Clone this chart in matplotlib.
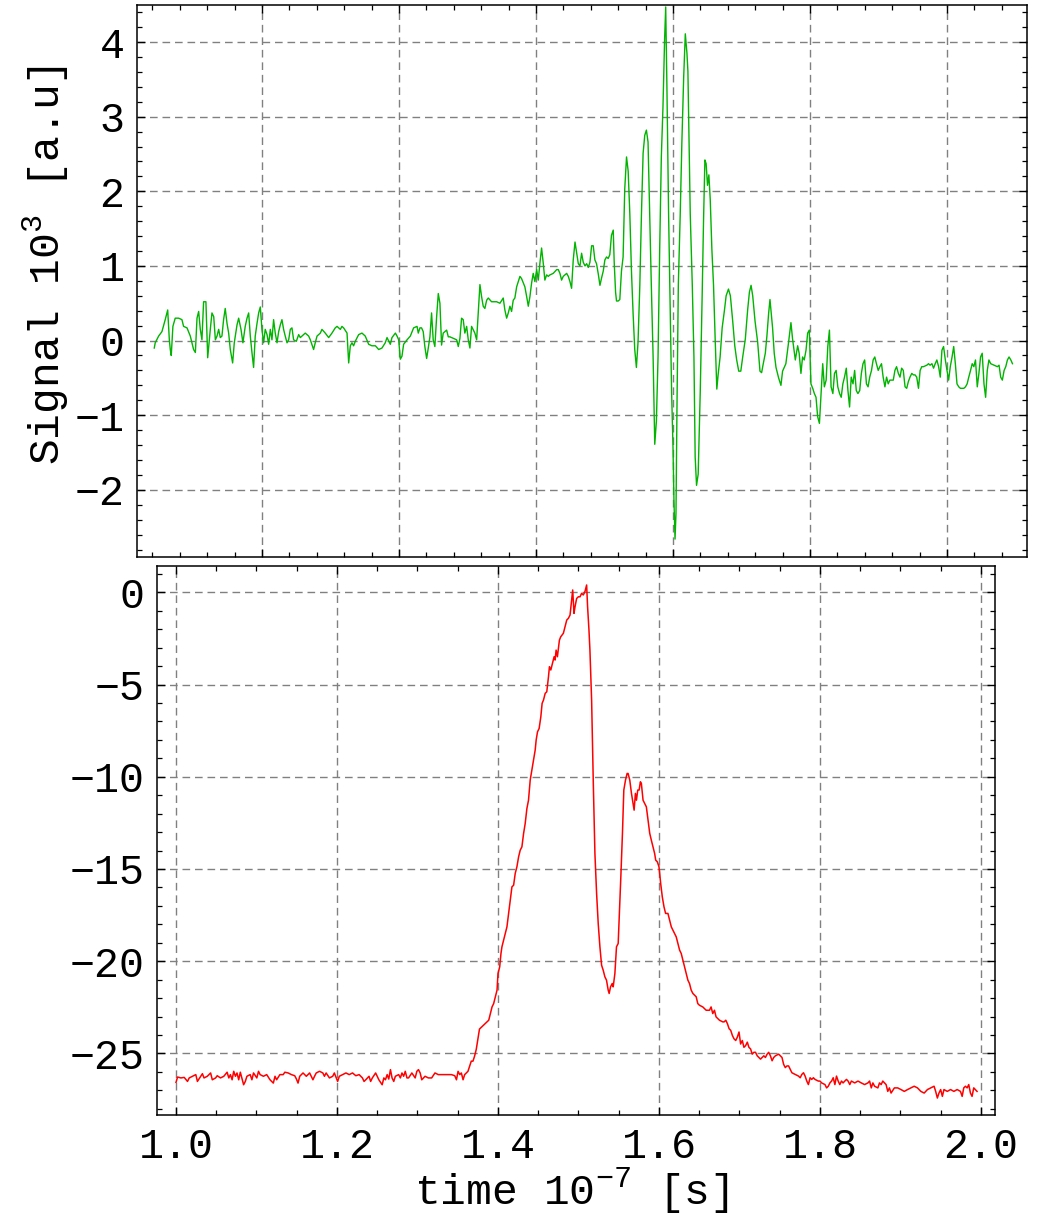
import matplotlib
matplotlib.use("Agg")
import matplotlib.pyplot as plt
from matplotlib.ticker import MultipleLocator, FixedLocator

plt.rcParams['font.family'] = ['Liberation Mono', 'DejaVu Sans']
plt.rcParams['mathtext.fontset'] = 'custom'
plt.rcParams['mathtext.rm'] = 'Liberation Mono'
plt.rcParams['mathtext.it'] = 'Liberation Mono'
plt.rcParams['axes.unicode_minus'] = True

# ---------------- data: top panel (signal, arbitrary time units) -------------
green_t = [102.14, 102.21, 102.46, 102.70, 102.94, 103.12, 103.24, 103.31, 103.38, 103.50,
           103.67, 103.92, 104.16, 104.28, 104.53, 104.77, 105.01, 105.14, 105.26, 105.38,
           105.50, 105.62, 105.74, 105.91, 106.04, 106.23, 106.35, 106.48, 106.60, 106.72,
           106.84, 106.96, 107.08, 107.20, 107.32, 107.45, 107.57, 107.69, 107.86, 107.98,
           108.18, 108.30, 108.47, 108.61, 108.78, 108.91, 109.03, 109.15, 109.27, 109.39,
           109.51, 109.64, 109.76, 109.88, 110.00, 110.12, 110.24, 110.37, 110.49, 110.61,
           110.73, 110.85, 110.97, 111.10, 111.22, 111.34, 111.46, 111.58, 111.70, 111.83,
           111.95, 112.07, 112.19, 112.31, 112.51, 112.68, 112.80, 113.04, 113.16, 113.41,
           113.53, 113.77, 113.89, 114.02, 114.26, 114.38, 114.62, 114.87, 115.11, 115.35,
           115.48, 115.72, 115.84, 115.96, 116.21, 116.33, 116.45, 116.57, 116.69, 116.81,
           117.06, 117.30, 117.54, 117.79, 118.03, 118.28, 118.52, 118.76, 119.00, 119.13,
           119.37, 119.49, 119.74, 119.86, 119.98, 120.10, 120.22, 120.34, 120.59, 120.83,
           121.07, 121.32,
           121.41, 121.53, 121.65, 121.77, 121.89, 122.02, 122.14, 122.26, 122.38, 122.50,
           122.62, 122.75, 122.87, 122.99, 123.11, 123.23, 123.35, 123.48, 123.60, 123.72,
           123.96, 124.21, 124.33, 124.45, 124.57, 124.69, 124.81, 124.94, 125.06, 125.18,
           125.30, 125.54, 125.67, 125.79, 125.91, 126.03, 126.15, 126.27, 126.40, 126.52,
           126.76, 127.13, 127.37, 127.61, 127.73, 127.86, 127.98, 128.10, 128.22, 128.34,
           128.46, 128.59, 128.83, 128.95, 129.19, 129.32, 129.44, 129.56, 129.68, 129.80,
           129.92, 130.05, 130.17, 130.29, 130.41, 130.53, 130.65, 130.78, 130.90, 131.02,
           131.26, 131.51, 131.63, 131.75, 131.87, 131.99, 132.24, 132.36, 132.48, 132.60,
           132.72,
           132.85, 132.97, 133.09, 133.21, 133.33, 133.45, 133.58, 133.70, 133.82, 133.94,
           134.06, 134.18, 134.30, 134.42, 134.55, 134.67, 134.79, 134.91, 135.03, 135.15,
           135.27, 135.39, 135.51, 135.64, 135.71, 135.81, 135.88, 136.00, 136.12, 136.24,
           136.36, 136.48, 136.61, 136.73, 136.85, 136.97, 137.09, 137.21, 137.33, 137.45,
           137.58, 137.70, 137.82, 137.94, 138.06, 138.18, 138.30, 138.42, 138.55, 138.67,
           138.79, 138.91, 139.03, 139.15, 139.27, 139.39, 139.47, 139.56, 139.68, 139.81,
           139.90, 140.00, 140.07, 140.15, 140.22, 140.29, 140.39, 140.53, 140.65, 140.78,
           140.90, 141.02, 141.09, 141.16, 141.26, 141.41, 141.53, 141.62, 141.72, 141.84,
           141.99, 142.13, 142.23, 142.33, 142.42, 142.52, 142.62, 142.72, 142.84, 142.96,
           143.08, 143.20, 143.30, 143.44, 143.59, 143.76, 143.88, 144.05, 144.19, 144.36,
           144.51, 144.65, 144.80, 144.95, 145.09, 145.28, 145.45, 145.58, 145.70, 145.82,
           145.99, 146.18, 146.35, 146.47, 146.59, 146.74, 146.86, 146.98, 147.08, 147.15,
           147.27, 147.39, 147.52, 147.71, 147.88, 148.00, 148.24, 148.44, 148.61, 148.73,
           148.93, 149.10, 149.21,
           149.34, 149.46, 149.58, 149.71, 149.83, 149.95, 150.07, 150.20, 150.32, 150.44,
           150.56, 150.69, 150.81, 150.93, 151.05, 151.18, 151.30, 151.42, 151.54, 151.67,
           151.79, 151.91, 152.03, 152.16, 152.28, 152.40, 152.52, 152.65, 152.77, 152.89,
           153.01, 153.14, 153.26, 153.38, 153.50, 153.63, 153.75, 153.87, 153.99, 154.12,
           154.24, 154.36, 154.49, 154.61, 154.73, 154.85, 154.98, 155.10, 155.22, 155.34,
           155.47, 155.59, 155.71, 155.83, 156.08, 156.20, 156.32, 156.45, 156.57, 156.69,
           156.81, 156.94, 157.06, 157.18, 157.30, 157.43, 157.55, 157.67, 157.79, 157.92,
           158.04, 158.16, 158.28, 158.53, 158.65, 158.77, 158.90, 159.02, 159.14, 159.26,
           159.39, 159.51, 159.63, 159.75, 159.88, 160.00, 160.12, 160.24, 160.37, 160.49,
           160.61, 160.73, 160.86, 160.98, 161.23, 161.35, 161.47, 161.59, 161.72, 161.84,
           161.96, 162.08, 162.21, 162.33, 162.45, 162.57, 162.70, 162.82, 162.94, 163.06,
           163.19, 163.43, 163.68, 163.80, 163.92, 164.04, 164.17, 164.29, 164.41, 164.53,
           164.66, 164.78]
green_v = [-0.10, -0.03, 0.06, 0.12, 0.28, 0.41, 0.01, -0.12, -0.20, 0.19,
           0.30, 0.30, 0.28, 0.19, 0.17, 0.06, -0.12, -0.16, 0.30, 0.39,
           0.15, 0.01, 0.52, 0.52, -0.23, 0.15, 0.37, 0.32, 0.01, 0.06,
           0.15, 0.04, 0.06, 0.28, 0.43, 0.23, 0.10, -0.12, -0.30, -0.03,
           0.21, 0.30, 0.15, -0.03, 0.19, 0.30, 0.37, 0.06, -0.16, -0.36,
           0.06, 0.23, 0.37, 0.45, 0.15, -0.03, 0.15, 0.08, -0.05, 0.15,
           0.01, 0.28, 0.10, -0.03, 0.12, 0.21, 0.28, 0.15, 0.06, -0.03,
           0.01, 0.15, 0.17, 0.01, -0.01, 0.08, 0.04, 0.08, 0.10, 0.06,
           0.01, -0.12, -0.03, 0.06, 0.10, 0.15, 0.10, 0.04, 0.10, 0.17,
           0.19, 0.15, 0.19, 0.17, 0.10, -0.30, -0.07, -0.03, -0.07, -0.01,
           0.08, 0.10, 0.06, -0.05, -0.07, -0.07, -0.12, -0.10, -0.03, 0.04,
           -0.05, 0.04, 0.10, 0.06, 0.01, -0.25, -0.21, -0.05, 0.01, 0.06,
           0.17, 0.19,
           0.10, 0.17, 0.17, 0.12, -0.08, -0.24, -0.10, 0.05, 0.37, 0.01,
           -0.08, 0.32, 0.63, 0.50, -0.06, 0.10, 0.12, 0.14, 0.05, 0.05,
           0.03, 0.01, -0.08, 0.03, 0.30, 0.28, 0.10, 0.19, 0.01, -0.10,
           0.19, 0.10, 0.01, 0.37, 0.75, 0.59, 0.46, 0.43, 0.54, 0.57,
           0.52, 0.52, 0.50, 0.57, 0.41, 0.30, 0.37, 0.46, 0.39, 0.54,
           0.57, 0.72, 0.86, 0.83, 0.72, 0.59, 0.46, 0.59, 0.77, 0.90,
           0.79, 0.95, 0.81, 1.04, 1.24, 1.04, 0.81, 0.88, 0.86, 0.88,
           0.90, 0.95, 0.95, 0.90, 0.81, 0.86, 0.90, 0.86, 0.79, 0.70,
           1.08,
           1.32, 1.17, 1.03, 1.00, 1.17, 1.05, 1.00, 1.03, 0.98, 1.05,
           1.27, 1.27, 1.08, 1.03, 0.89, 0.74, 0.84, 0.93, 1.08, 1.12,
           1.10, 1.15, 1.41, 1.48, 1.05, 0.65, 0.53, 0.53, 0.55, 0.93,
           1.12, 2.03, 2.46, 2.27, 1.70, 0.93, 0.36, -0.12, -0.36, -0.02,
           0.74, 1.70, 2.51, 2.75, 2.82, 2.66, 1.70, 0.74, -0.22, -1.39,
           -1.08, -0.22, 1.22, 2.46, 3.13, 4.04, 4.47, 3.37, 1.70, 0.26,
           -0.69, -1.41, -2.13, -2.66, -2.32, -0.93, 0.74, 1.70, 2.66, 3.52,
           4.11, 3.85, 3.61, 2.80, 1.70, 0.74, -0.22, -1.56, -1.94, -1.79,
           -0.69, 0.60, 1.60, 2.42, 2.37, 2.08, 2.22, 1.89, 1.22, 0.74,
           0.02, -0.65, -0.45, -0.22, 0.17, 0.41, 0.60, 0.69, 0.60, 0.26,
           -0.07, -0.26, -0.41, -0.41, -0.22, 0.02, 0.41, 0.65, 0.74, 0.60,
           0.26, -0.02, -0.41, -0.43, -0.31, -0.17, 0.07, 0.36, 0.55, 0.41,
           0.17, -0.17, -0.36, -0.50, -0.60, -0.41, -0.31, -0.02, 0.24, 0.02,
           -0.26, -0.07, -0.17,
           -0.44, -0.22, -0.26, -0.13, 0.10, 0.14, -0.58, -0.64, -0.71, -0.76,
           -1.02, -1.11, -0.71, -0.31, -0.62, -0.53, -0.08, 0.14, -0.62, -0.71,
           -0.44, -0.40, -0.62, -0.71, -0.76, -0.58, -0.49, -0.37, -0.67, -0.89,
           -0.49, -0.58, -0.40, -0.67, -0.71, -0.67, -0.44, -0.31, -0.26, -0.58,
           -0.62, -0.49, -0.40, -0.26, -0.22, -0.31, -0.40, -0.35, -0.31, -0.49,
           -0.62, -0.49, -0.58, -0.53, -0.53, -0.40, -0.35, -0.44, -0.49, -0.37,
           -0.40, -0.62, -0.64, -0.55, -0.49, -0.44, -0.46, -0.46, -0.49, -0.64,
           -0.40, -0.35, -0.35, -0.33, -0.31, -0.33, -0.31, -0.37, -0.31, -0.26,
           -0.35, -0.49, -0.13, -0.08, -0.26, -0.40, -0.53, -0.35, -0.22, -0.08,
           -0.31, -0.58, -0.62, -0.64, -0.64, -0.62, -0.58, -0.49, -0.40, -0.31,
           -0.35, -0.26, -0.62, -0.44, -0.22, -0.17, -0.58, -0.76, -0.40, -0.26,
           -0.31, -0.33, -0.35, -0.33, -0.49, -0.53, -0.40, -0.35, -0.26, -0.22,
           -0.26, -0.31]

# ---------------- data: bottom panel (time 1e-7 s) ---------------------------
red_t = [1.0000, 1.0020, 1.0061, 1.0102, 1.0143, 1.0164, 1.0205, 1.0246, 1.0266, 1.0307,
         1.0328, 1.0348, 1.0389, 1.0430, 1.0451, 1.0492, 1.0512, 1.0553, 1.0594, 1.0635,
         1.0656, 1.0676, 1.0697, 1.0717, 1.0738, 1.0758, 1.0779, 1.0799, 1.0840, 1.0861,
         1.0881, 1.0922, 1.0943, 1.0963, 1.1004, 1.1025, 1.1045, 1.1086, 1.1127, 1.1168,
         1.1209, 1.1230, 1.1250, 1.1291, 1.1332, 1.1352, 1.1393, 1.1434, 1.1475, 1.1496,
         1.1516, 1.1537, 1.1557, 1.1578, 1.1619, 1.1639, 1.1660, 1.1701, 1.1721, 1.1742,
         1.1783, 1.1824, 1.1844, 1.1865, 1.1906, 1.1947, 1.1967, 1.2008, 1.2029, 1.2070,
         1.2111, 1.2152, 1.2193, 1.2234, 1.2275, 1.2316, 1.2336, 1.2357, 1.2398, 1.2418,
         1.2439, 1.2480, 1.2520, 1.2561, 1.2582, 1.2602, 1.2623, 1.2643, 1.2664, 1.2684,
         1.2705, 1.2725, 1.2766, 1.2787, 1.2807, 1.2828, 1.2848, 1.2869, 1.2889, 1.2930,
         1.2971, 1.2992, 1.3012, 1.3033, 1.3053, 1.3094, 1.3135, 1.3176, 1.3217, 1.3258,
         1.3299, 1.3340, 1.3381, 1.3422, 1.3463, 1.3484, 1.3504, 1.3525, 1.3545, 1.3566,
         1.3586, 1.3607, 1.3627, 1.3648, 1.3668, 1.3689, 1.3709, 1.3730, 1.3750, 1.3770,
         1.3885, 1.3905, 1.3926, 1.3946, 1.3967, 1.3988, 1.4000, 1.4021, 1.4037, 1.4049,
         1.4070, 1.4091, 1.4111, 1.4132, 1.4153, 1.4173, 1.4194, 1.4214, 1.4235, 1.4256,
         1.4276, 1.4297, 1.4318, 1.4338, 1.4359, 1.4379, 1.4400, 1.4421, 1.4441, 1.4462,
         1.4474, 1.4491, 1.4511, 1.4532, 1.4548, 1.4565, 1.4586, 1.4606, 1.4627, 1.4639,
         1.4656, 1.4676, 1.4697, 1.4709, 1.4722, 1.4738, 1.4763, 1.4779, 1.4812, 1.4833,
         1.4854, 1.4874, 1.4895, 1.4915, 1.4928, 1.4944, 1.4957, 1.4977, 1.4998, 1.5019,
         1.5039, 1.5060, 1.5080, 1.5101, 1.5113, 1.5130, 1.5142, 1.5163, 1.5184, 1.5204,
         1.5225, 1.5245, 1.5266, 1.5287, 1.5307, 1.5328, 1.5348, 1.5369, 1.5381, 1.5398,
         1.5419, 1.5431, 1.5452, 1.5472, 1.5493, 1.5513, 1.5526, 1.5546, 1.5563, 1.5584,
         1.5604, 1.5616, 1.5637, 1.5658, 1.5678, 1.5691, 1.5707, 1.5720, 1.5736, 1.5753,
         1.5769, 1.5781, 1.5802, 1.5823, 1.5843, 1.5864, 1.5885, 1.5905, 1.5926, 1.5946,
         1.5959, 1.5979, 1.6000, 1.6021, 1.6041, 1.6062, 1.6082, 1.6111, 1.6132, 1.6153,
         1.6173, 1.6214, 1.6235, 1.6256, 1.6276, 1.6297, 1.6318, 1.6338, 1.6359, 1.6379,
         1.6400, 1.6421, 1.6462, 1.6482, 1.6503, 1.6544, 1.6586, 1.6627, 1.6647, 1.6668,
         1.6689, 1.6709, 1.6751, 1.6792,
         1.6809, 1.6830, 1.6850, 1.6871, 1.6891, 1.6912, 1.6932, 1.6953, 1.6973, 1.6994,
         1.7014, 1.7035, 1.7055, 1.7076, 1.7097, 1.7117, 1.7138, 1.7158, 1.7179, 1.7199,
         1.7220, 1.7240, 1.7261, 1.7281, 1.7302, 1.7322, 1.7343, 1.7363, 1.7384, 1.7405,
         1.7425, 1.7446, 1.7487, 1.7507, 1.7528, 1.7548, 1.7569, 1.7589, 1.7610, 1.7630,
         1.7651, 1.7692, 1.7733, 1.7754, 1.7774, 1.7795, 1.7815, 1.7836, 1.7856, 1.7877,
         1.7897, 1.7918, 1.7938, 1.7979, 1.8000, 1.8021, 1.8062, 1.8082, 1.8103, 1.8123,
         1.8144, 1.8164, 1.8185, 1.8205, 1.8226, 1.8246, 1.8267, 1.8287, 1.8308, 1.8329,
         1.8349, 1.8370, 1.8390, 1.8431, 1.8472, 1.8513, 1.8554, 1.8595, 1.8616, 1.8637,
         1.8657, 1.8678, 1.8719, 1.8739, 1.8760, 1.8780, 1.8821, 1.8842, 1.8862, 1.8883,
         1.8924, 1.8965, 1.9006, 1.9047, 1.9088, 1.9129, 1.9170, 1.9211, 1.9253, 1.9294,
         1.9335, 1.9376, 1.9417, 1.9437, 1.9458, 1.9478, 1.9499, 1.9520, 1.9540, 1.9581,
         1.9622, 1.9663, 1.9704, 1.9745, 1.9766, 1.9786, 1.9807, 1.9828, 1.9848, 1.9869,
         1.9889, 1.9910, 1.9930, 1.9951]
red_v = [-26.57, -26.28, -26.33, -26.30, -26.52, -26.33, -26.24, -26.15, -26.52, -26.24,
         -26.10, -26.33, -26.24, -26.06, -26.43, -26.33, -26.21, -26.33, -26.24, -26.02,
         -26.33, -26.15, -26.43, -25.97, -26.24, -26.06, -26.43, -26.02, -26.70, -26.52,
         -26.24, -26.15, -26.43, -26.06, -26.33, -25.97, -26.15, -26.24, -26.15, -26.43,
         -26.61, -26.24, -26.43, -26.15, -26.15, -26.02, -26.06, -26.15, -26.21, -26.39,
         -26.61, -26.24, -26.15, -26.06, -26.24, -26.15, -26.06, -26.43, -26.24, -26.06,
         -25.97, -26.06, -26.24, -26.06, -26.33, -26.24, -26.06, -26.52, -26.24, -26.15,
         -26.06, -26.15, -26.06, -26.21, -26.15, -26.33, -26.52, -26.43, -26.24, -26.52,
         -26.33, -26.06, -26.43, -26.70, -26.33, -26.43, -26.15, -26.39, -25.88, -26.33,
         -26.52, -26.24, -26.15, -26.33, -26.06, -26.24, -25.97, -26.33, -26.33, -26.06,
         -26.33, -25.97, -25.88, -26.06, -26.43, -26.24, -26.33, -26.33, -26.06, -26.15,
         -26.15, -26.15, -26.15, -26.15, -26.21, -26.43, -25.97, -26.15, -26.06, -26.43,
         -26.15, -26.06, -25.97, -25.69, -25.42, -25.42, -25.15, -24.78, -24.23, -23.68,
         -23.20, -22.84, -22.48, -22.30, -21.93, -21.57, -20.67, -20.31, -19.58, -19.22,
         -18.86, -18.50, -18.14, -17.41, -16.69, -15.97, -15.88, -15.24, -14.88, -14.34,
         -13.98, -13.80, -13.07, -12.53, -11.72, -11.27, -10.18, -9.64, -9.10, -8.55,
         -8.01, -7.56, -7.38, -6.75, -6.02, -5.84, -5.48, -5.39, -4.58, -4.03,
         -4.21, -3.85, -3.49, -3.67, -3.13, -3.49, -2.59, -2.41, -2.22, -1.86,
         -1.50, -1.41, -1.23, -0.42, 0.13, -1.14, -0.78, -0.33, -0.24, -0.24,
         -0.05, -0.14, 0.04, 0.40, -0.78, -2.04, -3.13, -5.84, -10.36, -14.16,
         -16.33, -17.96, -19.22, -20.22, -20.49, -20.85, -21.03, -21.57, -21.75, -21.39,
         -21.21, -21.39, -20.67, -19.22, -19.04, -16.87, -15.42, -13.07, -10.72, -10.18,
         -9.82, -9.82, -10.18, -10.90, -11.45, -11.81, -10.90, -11.27, -10.72, -10.72,
         -10.27, -10.36, -11.27, -11.45, -11.63, -12.35, -13.07, -13.44, -13.80, -14.16,
         -14.52, -14.61, -14.88, -15.79, -16.51, -17.05, -17.41, -17.41, -17.78, -18.14,
         -18.32, -18.68, -19.04, -19.40, -19.58, -19.95, -20.31, -20.67, -21.03, -21.21,
         -21.57, -21.75, -21.93, -22.30, -22.39, -22.48, -22.66, -22.66, -22.48, -22.84,
         -22.66, -23.02, -23.20, -23.29,
         -23.29, -23.20, -23.39, -23.66, -23.75, -24.03, -24.21, -24.30, -24.12, -23.84,
         -24.49, -24.30, -24.67, -24.58, -24.39, -24.67, -24.76, -25.04, -24.94, -24.94,
         -25.13, -25.22, -25.31, -25.22, -25.13, -25.22, -25.04, -24.94, -25.13, -25.40,
         -25.22, -25.13, -25.04, -25.13, -25.22, -25.59, -25.77, -25.68, -25.68, -25.86,
         -26.05, -26.14, -26.23, -26.32, -26.14, -26.05, -26.23, -26.50, -26.69, -26.32,
         -26.41, -26.32, -26.41, -26.50, -26.50, -26.60, -26.69, -26.87, -26.78, -26.60,
         -26.50, -26.32, -26.69, -26.23, -26.50, -26.69, -26.50, -26.60, -26.50, -26.41,
         -26.50, -26.69, -26.50, -26.60, -26.50, -26.60, -26.69, -26.60, -26.50, -26.87,
         -26.60, -26.78, -26.87, -26.60, -26.69, -26.50, -26.69, -27.06, -26.87, -27.15,
         -26.87, -26.87, -26.96, -27.06, -26.96, -26.87, -26.78, -26.87, -27.06, -27.15,
         -26.96, -26.87, -26.78, -27.06, -27.42, -27.15, -26.96, -27.33, -26.96, -27.06,
         -26.96, -27.06, -26.96, -27.06, -27.33, -26.87, -26.78, -26.87, -26.69, -27.15,
         -27.33, -26.87, -26.96, -27.06]

top_yticks = [-2, -1, 0, 1, 2, 3, 4]
top_ylabels = ["\u22122", "\u22121", "0", "1", "2", "3", "4"]
top_xticks = [110, 120, 130, 140, 150, 160]
bot_xticks = [1.0, 1.2, 1.4, 1.6, 1.8, 2.0]
bot_xlabels = ["1.0", "1.2", "1.4", "1.6", "1.8", "2.0"]
bot_yticks = [-25, -20, -15, -10, -5, 0]
bot_ylabels = ["\u221225", "\u221220", "\u221215", "\u221210", "\u22125", "0"]

FS = 30
FSL = 31
grid_kw = dict(color='#808080', linestyle=(0, (5.5, 3.5)), linewidth=1.0)

fig = plt.figure(figsize=(10.37, 12.19), dpi=100)

ax1 = fig.add_axes([137/1037, 1-557/1219, 890/1037, 552/1219])
ax2 = fig.add_axes([157/1037, 1-1115/1219, 838/1037, 549/1219])

for ax in (ax1, ax2):
    for s in ax.spines.values():
        s.set_linewidth(1.1)
        s.set_color('black')
    ax.tick_params(which='both', direction='in', top=True, right=True,
                   labelsize=FS, color='black')
    ax.tick_params(which='major', length=6, width=1.0, pad=9)
    ax.tick_params(which='minor', length=3.5, width=0.9)
    ax.set_axisbelow(True)

# top panel
ax1.plot(green_t, green_v, color='#00b400', linewidth=1.0, zorder=3)
ax1.set_xlim(100.88, 165.84)
ax1.set_ylim(-2.90, 4.496)
ax1.xaxis.set_major_locator(FixedLocator(top_xticks))
ax1.xaxis.set_minor_locator(MultipleLocator(2))
ax1.set_yticks(top_yticks)
ax1.set_yticklabels(top_ylabels)
ax1.yaxis.set_minor_locator(MultipleLocator(0.2))
ax1.tick_params(axis='x', labelbottom=False)
ax1.grid(True, which='major', **grid_kw)

# bottom panel
ax2.plot(red_t, red_v, color='#ff0000', linewidth=1.1, zorder=3)
ax2.set_xlim(0.9764, 2.0174)
ax2.set_ylim(-28.34, 1.43)
ax2.set_xticks(bot_xticks)
ax2.set_xticklabels(bot_xlabels)
ax2.xaxis.set_minor_locator(MultipleLocator(0.05))
ax2.set_yticks(bot_yticks)
ax2.set_yticklabels(bot_ylabels)
ax2.yaxis.set_minor_locator(MultipleLocator(1))
ax2.grid(True, which='major', **grid_kw)

fig.text(46/1037, 1-265/1219, "Signal 10$^{3}$ [a.u]", rotation=90,
         ha='center', va='center', fontsize=FSL)
fig.text(571/1037, 1-1191/1219, "time 10$^{-7}$ [s]",
         ha='center', va='center', fontsize=FSL)

fig.savefig("out.png", dpi=100)
